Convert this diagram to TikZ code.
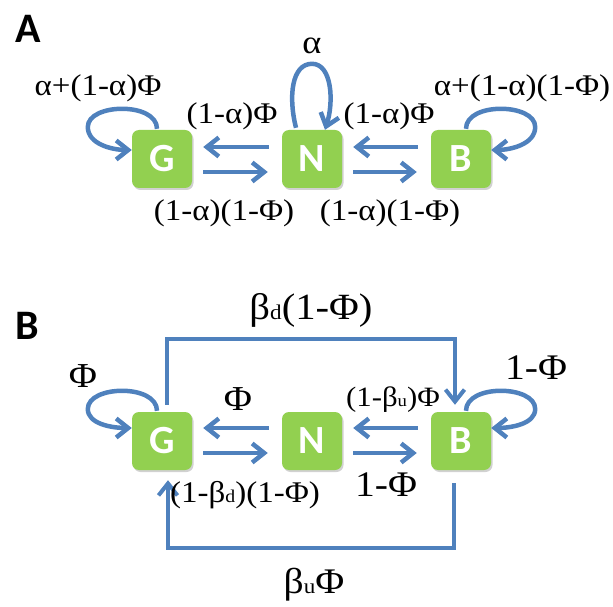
\documentclass[tikz,border=0pt]{standalone}
\usepackage{fontspec}
\setmainfont[FakeStretch=1.1]{Liberation Serif}
\newfontfamily\boxfont{Carlito}
\usetikzlibrary{arrows.meta,calc,shadows}
\definecolor{boxgreen}{RGB}{146,208,80}
\definecolor{linkblue}{RGB}{79,129,189}
\newcommand{\fs}[1]{\fontsize{#1}{#1}\selectfont}
\begin{document}
\begin{tikzpicture}[x=1pt,y=1pt,
  state/.style={rectangle, rounded corners=7pt, fill=boxgreen, minimum width=60pt, minimum height=58pt, inner sep=0pt, text=white, font=\boxfont\bfseries\fs{40},
    drop shadow={shadow xshift=1.5pt, shadow yshift=-2pt, opacity=0.3, fill=black!60}},
  arr/.style={draw=linkblue, line width=4.5pt, -{Straight Barb[length=12pt,width=19pt,line width=4.5pt]}},
  link/.style={draw=linkblue, line width=4pt, -{Straight Barb[length=12pt,width=19pt,line width=4pt]}},
  lbl/.style={inner sep=0pt},
  panel/.style={inner sep=0pt, font=\boxfont\bfseries\fs{42}}
]
\useasboundingbox (0,0) rectangle (613,606);

% ---------- Panel A ----------
\node[panel] (labA) at (28.5,577.5) {A};
\node[state] (G1) at (162,447) {G};
\node[state] (N1) at (312,447) {N};
\node[state] (B1) at (461,447) {B};

\draw[arr] ($(N1.west)+(-13,12)$) -- ($(G1.east)+(11,12)$);
\draw[arr] ($(G1.east)+(11,-13)$) -- ($(N1.west)+(-14,-13)$);
\draw[arr] ($(B1.west)+(-13,12)$) -- ($(N1.east)+(11,12)$);
\draw[arr] ($(N1.east)+(11,-13)$) -- ($(B1.west)+(-14,-13)$);

\draw[arr] ($(G1.north)+(-5,1)$) .. controls +(0,27) and +(0,24) .. ($(G1.west)+(-44,32)$)
  .. controls +(0,-17) and +(-20,0) .. ($(G1.west)+(0,9)$);
\draw[arr] ($(B1.north)+(5,1)$) .. controls +(0,27) and +(0,24) .. ($(B1.east)+(44,32)$)
  .. controls +(0,-17) and +(20,0) .. ($(B1.east)+(0,9)$);
\draw[arr] ($(N1.north)+(-16,2)$) .. controls +(-8,32) and +(-20,0) .. ($(N1.north)+(0,66)$)
  .. controls +(20,0) and +(9,28) .. ($(N1.north)+(13,0)$);

\node[lbl, font=\fs{30}] (aG) at (98,518) {α+(1-α)Φ};
\node[lbl, font=\fs{30}] (aB) at (522,518) {α+(1-α)(1-Φ)};
\node[lbl, font=\fs{33}] (aN) at (312,560) {α};
\node[lbl, font=\fs{30}] (aNG) at (232,490) {(1-α)Φ};
\node[lbl, font=\fs{30}] (aBN) at (389,490) {(1-α)Φ};
\node[lbl, font=\fs{30}] (aGN) at (224,393) {(1-α)(1-Φ)};
\node[lbl, font=\fs{30}] (aNB) at (390,393) {(1-α)(1-Φ)};

% ---------- Panel B ----------
\node[panel] (labB) at (27.5,280) {B};
\node[state] (G2) at (162,165) {G};
\node[state] (N2) at (312,165) {N};
\node[state] (B2) at (461,165) {B};

\draw[arr] ($(N2.west)+(-13,13)$) -- ($(G2.east)+(11,13)$);
\draw[arr] ($(G2.east)+(11,-12)$) -- ($(N2.west)+(-14,-12)$);
\draw[arr] ($(B2.west)+(-13,13)$) -- ($(N2.east)+(11,13)$);
\draw[arr] ($(N2.east)+(11,-12)$) -- ($(B2.west)+(-14,-12)$);

\draw[arr] ($(G2.north)+(-5,1)$) .. controls +(0,27) and +(0,24) .. ($(G2.west)+(-44,32)$)
  .. controls +(0,-15) and +(-20,0) .. ($(G2.west)+(0,13)$);
\draw[arr] ($(B2.north)+(5,1)$) .. controls +(0,27) and +(0,24) .. ($(B2.east)+(44,32)$)
  .. controls +(0,-15) and +(20,0) .. ($(B2.east)+(0,13)$);

\draw[link] ($(G2.north)+(5,7)$) |- ($(B2.north)+(-6,73)$) -- ($(B2.north)+(-6,7)$);
\draw[link] ($(B2.south)+(-7,-13)$) |- ($(G2.south)+(6,-78)$) -- ($(G2.south)+(6,-10)$);

\node[lbl, font=\fs{35}] (bG) at (83,230) {Φ};
\node[lbl, font=\fs{36}] (bB) at (536,238) {1-Φ};
\node[lbl, font=\fs{37}] (bGB) at (311,296) {β{\fs{21}d}(1-Φ)};
\node[lbl, font=\fs{36}] (bBG) at (314,21) {β{\fs{21}u}Φ};
\node[lbl, font=\fs{35}] (bNG) at (238,207) {Φ};
\node[lbl, font=\fs{28}] (bBN) at (393,206) {(1-β{\fs{17}u})Φ};
\node[lbl, font=\fs{30}] (bGN) at (245,111) {(1-β{\fs{18}d})(1-Φ)};
\node[lbl, font=\fs{36}] (bNB) at (386,121) {1-Φ};
\end{tikzpicture}
\end{document}
